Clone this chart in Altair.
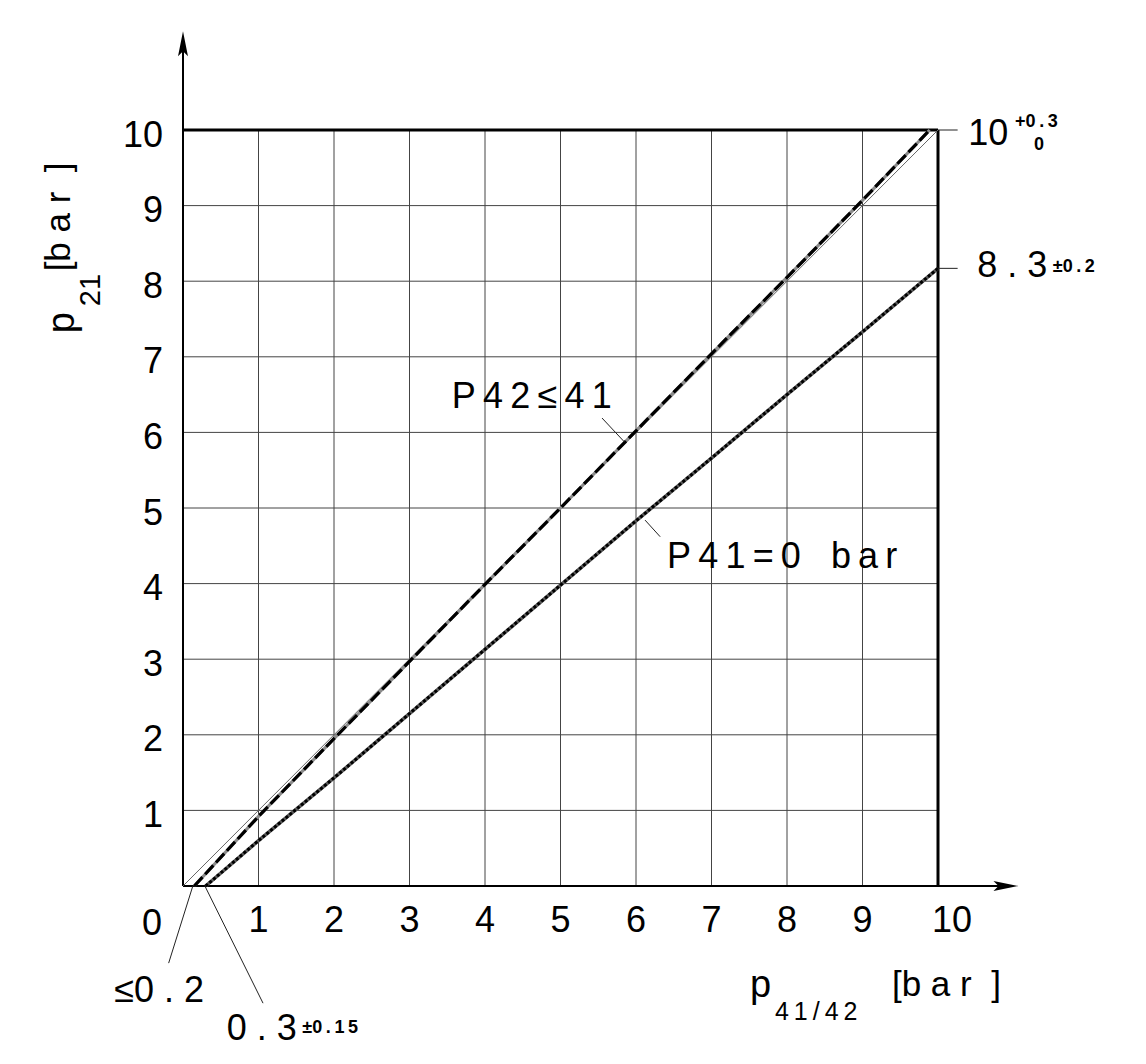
import altair as alt
import pandas as pd

# ---------------- data ----------------
DOMAIN = [0, 10]
grid_ticks = [1, 2, 3, 4, 5, 6, 7, 8, 9]
tick_values = [1, 2, 3, 4, 5, 6, 7, 8, 9, 10]
tick_labels = ["1", "2", "3", "4", "5", "6", "7", "8", "9", "10"]

# thin reference line (p21 = p41/42)
ref_x = [0, 10]
ref_y = [0, 10]
# P42 <= 41 characteristic (starts at <=0.2, ends at 10 +0.3/0)
p42_x = [0.15, 1, 2, 3, 4, 5, 6, 7, 8, 9, 9.89]
p42_y = [0, 0.92, 1.95, 2.97, 3.99, 5.0, 6.02, 7.04, 8.05, 9.07, 10]
# P41 = 0 bar characteristic (starts at 0.3, ends at 8.3)
p41_x = [0.3, 1, 2, 3, 4, 5, 6, 7, 8, 9, 10]
p41_y = [0, 0.6, 1.43, 2.28, 3.13, 3.98, 4.83, 5.66, 6.5, 7.33, 8.17]

FONT = "Liberation Sans"
TS = "\u2009"
NB = "\u00a0"


def spaced(s):
    return TS.join(list(s))


xs = alt.Scale(domain=DOMAIN, nice=False, zero=False)
ys = alt.Scale(domain=DOMAIN, nice=False, zero=False)


def X(f="x"):
    return alt.X(f, type="quantitative", scale=xs, axis=None)


def Y(f="y"):
    return alt.Y(f, type="quantitative", scale=ys, axis=None)


def txt(df, **kw):
    base = dict(font=FONT, baseline="alphabetic", color="black")
    base.update(kw)
    return alt.Chart(df).mark_text(**base).encode(x=X(), y=Y(), text="t:N")


layers = []

# grid
gv = pd.DataFrame({"x": grid_ticks, "y": DOMAIN[0], "y2": DOMAIN[1]})
layers.append(alt.Chart(gv).mark_rule(color="#444", strokeWidth=1).encode(
    x=X(), y=Y(), y2="y2:Q"))
gh = pd.DataFrame({"y": grid_ticks, "x": DOMAIN[0], "x2": DOMAIN[1]})
layers.append(alt.Chart(gh).mark_rule(color="#444", strokeWidth=1).encode(
    y=Y(), x=X(), x2="x2:Q"))

# frame (top and right, thick)
top = pd.DataFrame({"x": [0], "x2": [10], "y": [10]})
layers.append(alt.Chart(top).mark_rule(color="black", strokeWidth=3).encode(
    x=X(), x2="x2:Q", y=Y()))
right = pd.DataFrame({"x": [10], "y": [0], "y2": [10]})
layers.append(alt.Chart(right).mark_rule(color="black", strokeWidth=3).encode(
    x=X(), y=Y(), y2="y2:Q"))

# axes with arrows
yaxis = pd.DataFrame({"x": [0], "y": [0], "y2": [11.2]})
layers.append(alt.Chart(yaxis).mark_rule(color="black", strokeWidth=2).encode(
    x=X(), y=Y(), y2="y2:Q"))
xaxis = pd.DataFrame({"x": [0], "x2": [10.95], "y": [0]})
layers.append(alt.Chart(xaxis).mark_rule(color="black", strokeWidth=2).encode(
    x=X(), x2="x2:Q", y=Y()))
ARROW = "M0,-1L0.4,1L0,0.6L-0.4,1Z"
arr = pd.DataFrame({"x": [0, 10.9], "y": [11.14, 0], "a": [0, 90]})
layers.append(alt.Chart(arr).mark_point(shape=ARROW, filled=True, color="black",
                                         opacity=1, size=620).encode(
    x=X(), y=Y(), angle=alt.Angle("a:Q", scale=None)))

# curves
ref = pd.DataFrame({"x": ref_x, "y": ref_y})
layers.append(alt.Chart(ref).mark_line(color="#666", strokeWidth=1).encode(x=X(), y=Y()))
p42 = pd.DataFrame({"x": p42_x, "y": p42_y})
layers.append(alt.Chart(p42).mark_line(color="#8c8c8c", strokeWidth=3.2).encode(x=X(), y=Y()))
layers.append(alt.Chart(p42).mark_line(color="black", strokeWidth=3.2,
                                       strokeDash=[12, 4]).encode(x=X(), y=Y()))
p41 = pd.DataFrame({"x": p41_x, "y": p41_y})
layers.append(alt.Chart(p41).mark_line(color="#5a5a5a", strokeWidth=3.6).encode(x=X(), y=Y()))
layers.append(alt.Chart(p41).mark_line(color="black", strokeWidth=3.0,
                                       strokeDash=[3, 2]).encode(x=X(), y=Y()))

# leader lines
lead = pd.DataFrame({
    "x": [0.13, 0.29, 5.55, 6.32, 10, 10],
    "x2": [-0.19, 1.06, 5.85, 6.12, 10.26, 10.26],
    "y": [0, 0, 6.19, 4.62, 10, 8.17],
    "y2": [-1.02, -1.55, 5.87, 4.84, 10, 8.17],
})
layers.append(alt.Chart(lead).mark_rule(color="#222", strokeWidth=1).encode(
    x=X(), x2="x2:Q", y=Y(), y2="y2:Q"))

# tick labels
xl = pd.DataFrame({"x": tick_values[:-1], "y": [0] * 9, "t": tick_labels[:-1]})
layers.append(txt(xl, fontSize=36, align="center", dy=46))
xl10 = pd.DataFrame({"x": tick_values[-1:], "y": [0], "t": tick_labels[-1:]})
layers.append(txt(xl10, fontSize=36, align="left", dy=46, dx=-6))
yl = pd.DataFrame({"y": tick_values, "x": [0] * 10, "t": tick_labels})
layers.append(txt(yl, fontSize=36, align="right", dy=16.5, dx=-20))
zero = pd.DataFrame({"x": [0], "y": [0], "t": ["0"]})
layers.append(txt(zero, fontSize=36, align="center", dx=-31, dy=49))

# annotation texts (large)
big = pd.DataFrame({
    "x": [3.56, 6.41, 10.52, 0.58],
    "y": [6.32, 4.21, 8.06, -2.04],
    "t": [spaced("P42≤41"), spaced("P41=0") + NB * 3 + spaced("bar"),
          "8" + NB + "." + NB + "3", "0" + NB + "." + NB + "3"],
})
layers.append(txt(big, fontSize=36, align="left"))
ten = pd.DataFrame({"x": [10.93], "y": [9.80], "t": ["10"]})
layers.append(txt(ten, fontSize=36, align="right"))
le = pd.DataFrame({"x": [0.28], "y": [-1.53], "t": ["≤0" + NB + "." + NB + "2"]})
layers.append(txt(le, fontSize=36, align="right"))
# tolerances (small, bold)
small = pd.DataFrame({
    "x": [11.02, 11.27, 11.52, 1.58],
    "y": [10.04, 9.73, 8.12, -1.94],
    "t": ["+" + spaced("0.3"), "0", "±" + spaced("0.2"), "±" + spaced("0.15")],
})
layers.append(txt(small, fontSize=18, fontWeight="bold", align="left"))

# x axis title: p 41/42 [bar ]
UNIT = "[b" + NB + "a" + NB + "r" + NB + NB + "]"
layers.append(txt(pd.DataFrame({"x": [7.51], "y": [-1.47], "t": ["p"]}),
                  fontSize=38, align="left"))
layers.append(txt(pd.DataFrame({"x": [7.84], "y": [-1.77], "t": [spaced("41/42")]}),
                  fontSize=25, align="left"))
layers.append(txt(pd.DataFrame({"x": [9.39], "y": [-1.45], "t": [UNIT]}),
                  fontSize=35, align="left"))

# y axis title: p 21 [bar ] (rotated)
layers.append(txt(pd.DataFrame({"x": [-1.44], "y": [7.31], "t": ["p"]}),
                  fontSize=38, align="left", angle=270))
layers.append(txt(pd.DataFrame({"x": [-1.10], "y": [7.67], "t": ["21"]}),
                  fontSize=29, align="left", angle=270))
layers.append(txt(pd.DataFrame({"x": [-1.50], "y": [8.13], "t": [UNIT]}),
                  fontSize=35, align="left", angle=270))

chart = alt.layer(*layers).properties(
    width=755, height=756,
    autosize=alt.AutoSizeParams(type="none"),
    padding={"left": 175, "top": 122, "right": 190, "bottom": 170},
    background="white",
).configure_view(stroke=None)

chart.save("out.html", embed_options={"renderer": "svg", "actions": False})
